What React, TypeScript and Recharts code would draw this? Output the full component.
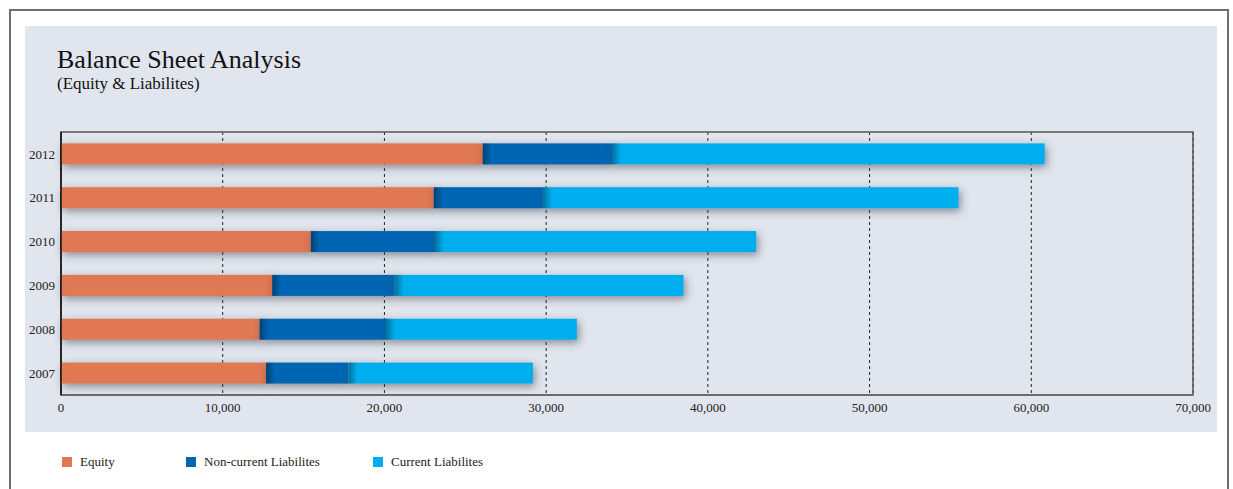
import React from "react";
import { BarChart, Bar, XAxis, YAxis, CartesianGrid, Legend, ReferenceArea } from "recharts";

const years = ["2007", "2008", "2009", "2010", "2011", "2012"];
const equity = [12680, 12280, 13060, 15450, 23050, 26080];
const nonCurrent = [5100, 7820, 7580, 7680, 6750, 8000];
const current = [11400, 11800, 17860, 19860, 25700, 26750];
const xTicks = [0, 10000, 20000, 30000, 40000, 50000, 60000, 70000];

const seriesInfo = [
  { key: "equity", name: "Equity", color: "#E07852" },
  { key: "nonCurrent", name: "Non-current Liabilites", color: "#0066B3" },
  { key: "current", name: "Current Liabilites", color: "#00AEEF" },
];

const data = years.map((year, i) => ({
  year,
  equity: equity[i],
  nonCurrent: nonCurrent[i],
  current: current[i],
}));

const font = "'Liberation Serif', 'DejaVu Serif', serif";

function Segment(props: any) {
  const { x, y, width, height, fill, edge } = props;
  if (!width || width <= 0) return null;
  return (
    <g>
      <rect x={x} y={y} width={width} height={height} fill={fill} filter="url(#barShadow)" />
      {edge && (
        <rect x={x} y={y} width={Math.min(9, width)} height={height} fill="url(#edgeShade)" />
      )}
    </g>
  );
}

function LegendContent() {
  const lefts = [37, 161, 348];
  return (
    <div style={{ position: "relative", height: 20, fontFamily: font, fontSize: 13, color: "#222" }}>
      {seriesInfo.map((s, i) => (
        <div key={s.key} style={{ position: "absolute", left: lefts[i], top: 0, display: "flex", alignItems: "center" }}>
          <span style={{ display: "inline-block", width: 10, height: 10, background: s.color, marginRight: 8 }} />
          <span>{s.name}</span>
        </div>
      ))}
    </div>
  );
}

export default function App() {
  return (
    <div style={{ position: "fixed", left: 0, top: 0, width: 1233, height: 489, overflow: "hidden", background: "#fff" }}>
      <div style={{ position: "absolute", left: 9, top: 9, width: 1220, height: 520, border: "2px solid #6f6f6f", boxSizing: "border-box" }} />
      <div style={{ position: "absolute", left: 25, top: 26, width: 1192, height: 406, background: "#E1E5ED" }} />
      <div style={{ position: "absolute", left: 57, top: 46, fontFamily: font, color: "#111" }}>
        <div style={{ fontSize: 26, lineHeight: "28px" }}>Balance Sheet Analysis</div>
        <div style={{ fontSize: 17, lineHeight: "19px" }}>(Equity &amp; Liabilites)</div>
      </div>
      <div style={{ position: "absolute", left: 25, top: 26 }}>
        <BarChart
          width={1192}
          height={463}
          data={data}
          layout="vertical"
          margin={{ top: 106, right: 24, bottom: 44, left: 0 }}
          barCategoryGap="26%"
        >
          <defs>
            <filter id="barShadow" x="-5%" y="-60%" width="115%" height="240%">
              <feDropShadow dx="2" dy="3" stdDeviation="4" floodColor="#3a3f4a" floodOpacity="0.55" />
            </filter>
            <linearGradient id="edgeShade" x1="0" y1="0" x2="1" y2="0">
              <stop offset="0%" stopColor="#000" stopOpacity={0.35} />
              <stop offset="100%" stopColor="#000" stopOpacity={0} />
            </linearGradient>
          </defs>
          <CartesianGrid horizontal={false} stroke="#222" strokeDasharray="3 3" />
          <ReferenceArea x1={0} x2={70000} fill="none" stroke="#555" strokeWidth={1.5} ifOverflow="visible" />
          <XAxis
            type="number"
            domain={[0, 70000]}
            ticks={xTicks}
            tickFormatter={(v: number) => v.toLocaleString("en-US")}
            axisLine={{ stroke: "#6a6a6a", strokeWidth: 2 }}
            tickLine={false}
            tickMargin={2}
            height={30}
            tick={{ fontFamily: font, fontSize: 13, fill: "#222" }}
          />
          <YAxis
            type="category"
            dataKey="year"
            reversed
            width={36}
            axisLine={{ stroke: "#111", strokeWidth: 1.5 }}
            tickLine={false}
            tickMargin={0}
            tick={{ fontFamily: font, fontSize: 13, fill: "#222" }}
          />
          {seriesInfo.map((s, i) => (
            <Bar
              key={s.key}
              dataKey={s.key}
              name={s.name}
              stackId="a"
              fill={s.color}
              isAnimationActive={false}
              shape={(p: any) => <Segment {...p} fill={s.color} edge={i > 0} />}
            />
          ))}
          <Legend
            content={<LegendContent />}
            wrapperStyle={{ position: "absolute", left: 0, top: 428, width: 1192 }}
          />
        </BarChart>
      </div>
    </div>
  );
}
